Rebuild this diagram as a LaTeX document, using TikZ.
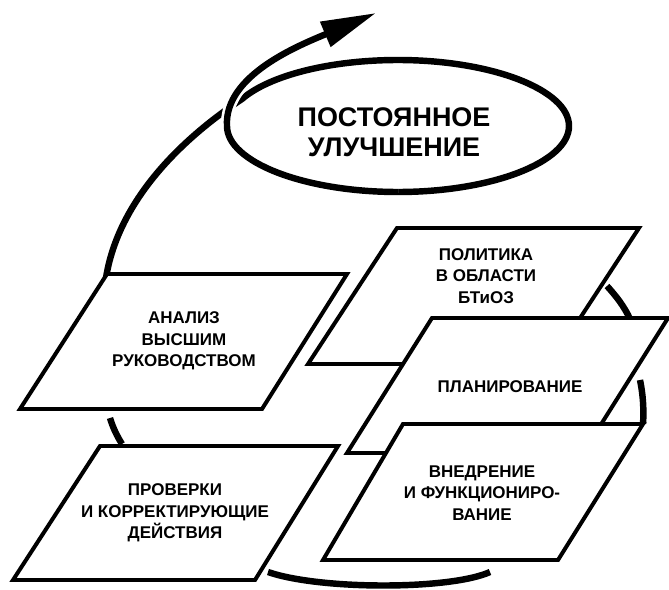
\documentclass[tikz,border=0pt]{standalone}
\usepackage{fontspec}
\setmainfont{Liberation Sans}
\usetikzlibrary{arrows.meta}

\begin{document}
\begin{tikzpicture}[x=0.03cm, y=-0.03cm,
    pbox/.style={draw, fill=white, line width=3.4pt},
    ptext/.style={align=center, inner sep=0pt, font=\bfseries\fontsize{14.5}{18.5}\selectfont},
    cyc/.style={line width=5.5pt}]
  \useasboundingbox (0,0) rectangle (669,590);
  \draw[cyc] (104,300) .. controls (106,220) and (165,150) .. (242,99)
     .. controls (269.7,75.2) and (330.5,60) .. (398,60)
     .. controls (492,60) and (569,90) .. (569,126)
     .. controls (569,162) and (492,192) .. (398,192);
  \draw[cyc, preaction={draw=white, line width=10pt}, -{Triangle[length=47pt, width=22pt]}]
     (398,192) .. controls (304,192) and (227,162) .. (227,126)
     .. controls (224,75) and (300,45) .. (376,13);
  \node[align=center, inner sep=0pt, font=\bfseries\fontsize{23}{26}\selectfont] (uluch) at (394,132) {ПОСТОЯННОЕ\\УЛУЧШЕНИЕ};
  \draw[cyc] (607,286) .. controls (616,296) and (624,306) .. (630,319);
  \draw[cyc] (640,380) .. controls (643,394) and (644,410) .. (643,424);
  \draw[cyc] (490,572) .. controls (450,590) and (320,590) .. (268,572);
  \draw[cyc] (122,444) .. controls (117,436) and (113,428) .. (110,418);
  \draw[pbox] (397,228) -- (639,228) -- (550,364) -- (308,364) -- cycle;
  \node[ptext] (polit) at (486,276) {ПОЛИТИКА\\В ОБЛАСТИ\\БТиОЗ};
  \draw[pbox] (432,318) -- (668,318) -- (583,453) -- (347,453) -- cycle;
  \node[ptext] (plan) at (510,387) {ПЛАНИРОВАНИЕ};
  \draw[pbox] (403,424) -- (643,424) -- (558,560) -- (323,560) -- cycle;
  \node[ptext] (vnedr) at (482,493) {ВНЕДРЕНИЕ\\И ФУНКЦИОНИРО-\\ВАНИЕ};
  \draw[pbox] (107,274) -- (347,274) -- (262,409) -- (20,409) -- cycle;
  \node[ptext] (analiz) at (184,341) {АНАЛИЗ\\ВЫСШИМ\\РУКОВОДСТВОМ};
  \draw[pbox] (100,446) -- (338,446) -- (255,580) -- (13,580) -- cycle;
  \node[ptext] (prover) at (175,513) {ПРОВЕРКИ\\И КОРРЕКТИРУЮЩИЕ\\ДЕЙСТВИЯ};
\end{tikzpicture}
\end{document}
